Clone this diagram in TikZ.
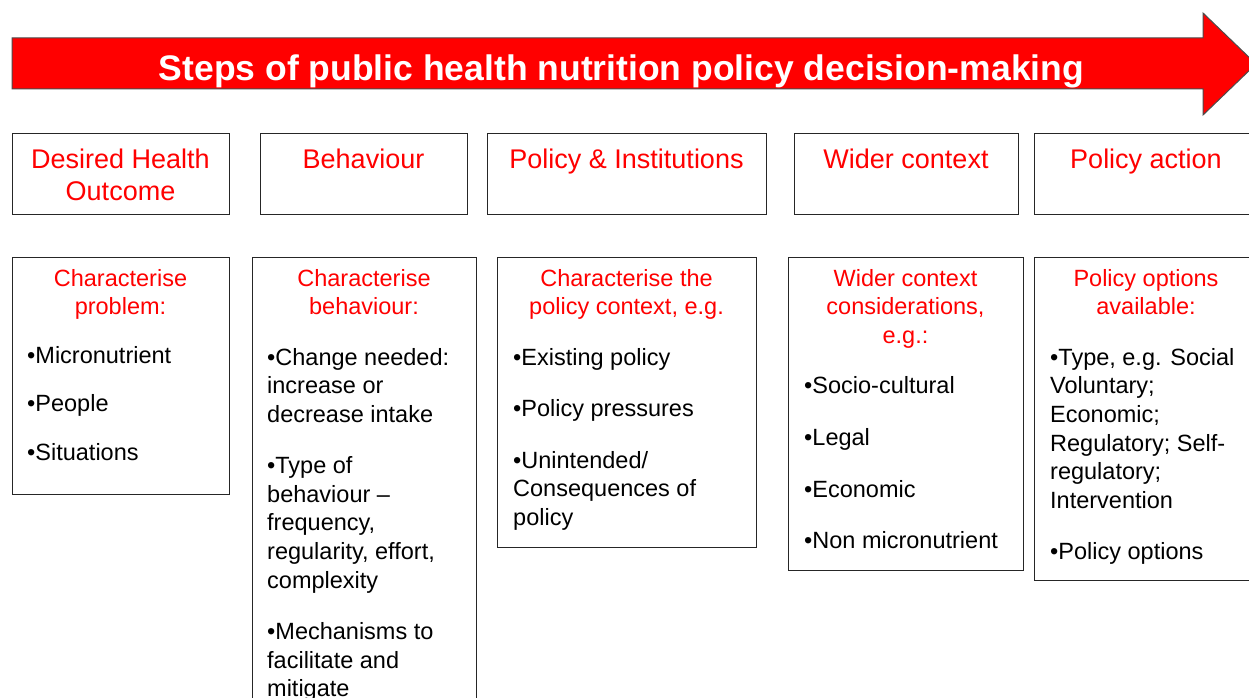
\documentclass[tikz,border=0pt]{standalone}
\usepackage{fontspec}
\setmainfont{Liberation Sans}
\begin{document}
\begin{tikzpicture}[x=1pt,y=-1pt,
  box/.style={draw=black!85, line width=1.3pt, fill=white, inner sep=0pt, anchor=north west},
  head/.style={text=red, font=\fontsize{27}{32}\selectfont, align=center, anchor=north, inner sep=0pt},
  subhead/.style={text=red, font=\fontsize{23.5}{28.6}\selectfont, align=center, anchor=north, inner sep=0pt},
  body/.style={text=black, font=\fontsize{23.5}{28.6}\selectfont, align=left, anchor=north west, inner sep=0pt},
  bigarrow/.style={draw=black!70, line width=1pt, fill=red}
]
\clip (0,0) rectangle (1249,698);
\fill[white] (0,0) rectangle (1249,698);
% arrow
\path[bigarrow] (12,38) -- (1203,38) -- (1203,13) -- (1256,64) -- (1203,115) -- (1203,89) -- (12,89) -- cycle;
\node[anchor=base, text=white, font=\fontsize{35.5}{40}\selectfont\bfseries, inner sep=0pt] (title) at (621.5,81) {Steps of public health nutrition policy decision-making};
% top boxes
\node[box, minimum width=217, minimum height=81] (t1) at (12,133) {};
\node[box, minimum width=207, minimum height=81] (t2) at (260,133) {};
\node[box, minimum width=279, minimum height=81] (t3) at (487,133) {};
\node[box, minimum width=224, minimum height=81] (t4) at (794,133) {};
\node[box, minimum width=224, minimum height=81] (t5) at (1034,133) {};
\node[head] (h1) at (120.5,145.6) {\strut Desired Health\\Outcome};
\node[head] (h2) at (363.5,145.6) {\strut Behaviour};
\node[head] (h3) at (626.5,145.6) {\strut Policy \& Institutions};
\node[head] (h4) at (906,145.6) {\strut Wider context};
\node[head] (h5) at (1146,145.6) {\strut Policy action};
% bottom boxes
\node[box, minimum width=217, minimum height=237] (b1) at (12,257) {};
\node[box, minimum width=224, minimum height=460] (b2) at (252,257) {};
\node[box, minimum width=259, minimum height=290] (b3) at (497,257) {};
\node[box, minimum width=235, minimum height=313] (b4) at (788,257) {};
\node[box, minimum width=224, minimum height=323] (b5) at (1034,257) {};
\node[subhead] (s1) at (120.5,266.1) {\strut Characterise\\problem:};
\node[subhead] (s2) at (364,266.1) {\strut Characterise\\behaviour:};
\node[subhead] (s3) at (626.5,266.1) {\strut Characterise the\\policy context, e.g.};
\node[subhead] (s4) at (905.5,266.1) {\strut Wider context\\considerations,\\e.g.:};
\node[subhead] (s5) at (1146,266.1) {\strut Policy options\\available:};
\node[body] (c1) at (27,343.1) {\strut •Micronutrient\\[20pt]•People\\[20pt]•Situations};
\node[body] (c2) at (267,345.1) {\strut •Change needed:\\increase or\\decrease intake\\[22.5pt]•Type of\\behaviour –\\frequency,\\regularity, effort,\\complexity\\[23pt]•Mechanisms to\\facilitate and\\mitigate};
\node[body] (c3) at (513,345.1) {\strut •Existing policy\\[23pt]•Policy pressures\\[22.5pt]•Unintended/\\Consequences of\\policy};
\node[body] (c4) at (804,373.1) {\strut •Socio-cultural\\[24pt]•Legal\\[22.5pt]•Economic\\[23pt]•Non micronutrient};
\node[body] (c5) at (1050,345.1) {\strut •Type, e.g. Social\\Voluntary;\\Economic;\\Regulatory; Self-\\regulatory;\\Intervention\\[22.5pt]•Policy options};
\end{tikzpicture}
\end{document}
